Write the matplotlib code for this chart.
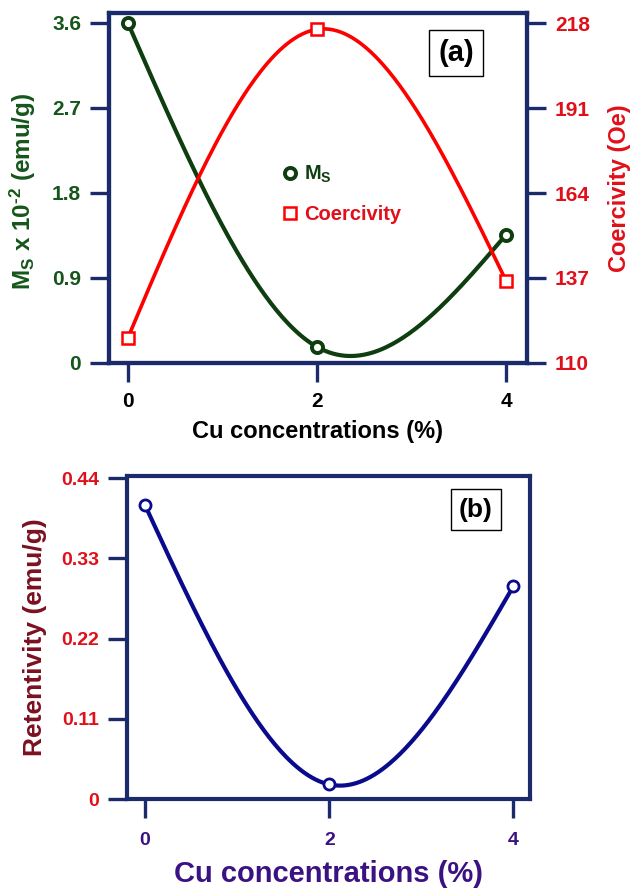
import numpy as np
import matplotlib
matplotlib.use('Agg')
import matplotlib.pyplot as plt
from matplotlib.lines import Line2D

plt.rcParams['font.family'] = ['Liberation Sans', 'DejaVu Sans']
plt.rcParams['font.weight'] = 'bold'
plt.rcParams['axes.labelweight'] = 'bold'
plt.rcParams['mathtext.fontset'] = 'custom'
plt.rcParams['mathtext.rm'] = 'Liberation Sans:bold'
plt.rcParams['mathtext.bf'] = 'Liberation Sans:bold'
plt.rcParams['mathtext.default'] = 'rm'

# dados
cu = [0, 2, 4]
ms = [3.6, 0.17, 1.36]
coerc = [118, 216, 136]
retent = [0.403, 0.02, 0.292]

ms_ticks = [0, 0.9, 1.8, 2.7, 3.6]
ms_ticklabels = ['0', '0.9', '1.8', '2.7', '3.6']
hc_ticks = [110, 137, 164, 191, 218]
mr_ticks = [0, 0.11, 0.22, 0.33, 0.44]
mr_ticklabels = ['0', '0.11', '0.22', '0.33', '0.44']

navy = '#1b2a6b'
green = '#0e3d10'
green_txt = '#16561a'
red = '#ff0000'
red_txt = '#e0101a'
blue = '#0a0a8c'
darkred = '#7b1020'
purple = '#3b1282'


# spline cubica natural (suavizacao das curvas)
def spline_natural(x, y, n=200):
    x = np.asarray(x, float)
    y = np.asarray(y, float)
    k = len(x)
    h = np.diff(x)
    A = np.zeros((k, k))
    b = np.zeros(k)
    A[0, 0] = 1
    A[-1, -1] = 1
    for i in range(1, k - 1):
        A[i, i - 1] = h[i - 1]
        A[i, i] = 2 * (h[i - 1] + h[i])
        A[i, i + 1] = h[i]
        b[i] = 6 * ((y[i + 1] - y[i]) / h[i] - (y[i] - y[i - 1]) / h[i - 1])
    M = np.linalg.solve(A, b)
    xs = np.linspace(x[0], x[-1], n)
    ys = np.zeros_like(xs)
    for j, xv in enumerate(xs):
        i = min(np.searchsorted(x, xv, side='right') - 1, k - 2)
        hi = h[i]
        a = x[i + 1] - xv
        c = xv - x[i]
        ys[j] = (M[i] * a ** 3 / (6 * hi) + M[i + 1] * c ** 3 / (6 * hi)
                 + (y[i] / hi - M[i] * hi / 6) * a
                 + (y[i + 1] / hi - M[i + 1] * hi / 6) * c)
    return xs, ys


def estilo(ax):
    for s in ax.spines.values():
        s.set_color(navy)
        s.set_linewidth(3)
    ax.tick_params(which='both', direction='out', length=14, width=2.4,
                   color=navy)


fig = plt.figure(figsize=(6.3, 8.89), dpi=100)

# ---------- painel (a) ----------
ax1 = fig.add_axes([0.173, 0.5917, 0.6635, 0.3937])
ax2 = ax1.twinx()

xs, ys = spline_natural(cu, ms)
ax1.plot(xs, ys, color=green, lw=3, zorder=3)
ax1.plot(cu, ms, 'o', ms=8, mfc='white', mec=green, mew=2.8, zorder=4)

xs, ys = spline_natural(cu, coerc)
ax2.plot(xs, ys, color=red, lw=2.6, zorder=3)
ax2.plot(cu, coerc, 's', ms=9, mfc='white', mec=red, mew=1.8, zorder=4)

ax1.set_xlim(-0.2, 4.22)
ax1.set_ylim(0, 3.706)
ax2.set_ylim(110, 221.2)
ax1.set_xticks(cu)
ax1.set_yticks(ms_ticks)
ax1.set_yticklabels(ms_ticklabels)
ax2.set_yticks(hc_ticks)
for a in (ax1, ax2):
    estilo(a)
ax1.tick_params(axis='y', labelcolor=green_txt, labelsize=15, pad=6)
ax1.tick_params(axis='x', labelcolor='black', labelsize=15, pad=7)
ax2.tick_params(axis='y', labelcolor=red_txt, labelsize=15, pad=6)

ax1.set_xlabel('Cu concentrations (%)', fontsize=17, color='black', va='center')
ax1.xaxis.set_label_coords(0.5, -0.195)
ax1.set_ylabel(r'M$_{S}$ x 10$^{\text{-2}}$ (emu/g)', fontsize=17.5,
               color=green_txt, va='center')
ax1.yaxis.set_label_coords(-0.205, 0.49)
ax2.set_ylabel('Coercivity (Oe)', fontsize=17, color=red_txt, rotation=90,
               va='center')
ax2.yaxis.set_label_coords(1.222, 0.5)

handles = [Line2D([], [], ls='none', marker='o', ms=8, mfc='white', mec=green, mew=2.8),
           Line2D([], [], ls='none', marker='s', ms=8, mfc='white', mec=red, mew=1.8)]
leg = ax1.legend(handles, [r'M$_{S}$', 'Coercivity'], loc='center left',
                 bbox_to_anchor=(0.37, 0.483), frameon=False, fontsize=14.5,
                 handlelength=0.8, handletextpad=0.3, labelspacing=1.0)
for t, c in zip(leg.get_texts(), [green, red_txt]):
    t.set_color(c)

ax1.text(0.83, 0.886, '(a)', transform=ax1.transAxes, fontsize=21,
         ha='center', va='center', zorder=6,
         bbox=dict(boxstyle='square,pad=0.32', fc='white', ec='black', lw=1))

# ---------- painel (b) ----------
ax3 = fig.add_axes([0.2016, 0.1012, 0.6397, 0.3633])
xs, ys = spline_natural(cu, retent)
ax3.plot(xs, ys, color=blue, lw=3, zorder=3)
ax3.plot(cu, retent, 'o', ms=8, mfc='white', mec=blue, mew=2, zorder=4)
ax3.set_xlim(-0.196, 4.18)
ax3.set_ylim(0, 0.443)
ax3.set_xticks(cu)
ax3.set_yticks(mr_ticks)
ax3.set_yticklabels(mr_ticklabels)
estilo(ax3)
ax3.tick_params(axis='y', labelcolor=red_txt, labelsize=14, pad=6)
ax3.tick_params(axis='x', labelcolor=purple, labelsize=14, pad=10)
ax3.set_xlabel('Cu concentrations (%)', fontsize=21, color=purple, va='center')
ax3.xaxis.set_label_coords(0.5, -0.232)
ax3.set_ylabel('Retentivity (emu/g)', fontsize=19, color=darkred, va='center')
ax3.yaxis.set_label_coords(-0.228, 0.5)
ax3.text(0.866, 0.896, '(b)', transform=ax3.transAxes, fontsize=19,
         ha='center', va='center', zorder=6,
         bbox=dict(boxstyle='square,pad=0.32', fc='white', ec='black', lw=1))

fig.savefig('out.png', dpi=100)
